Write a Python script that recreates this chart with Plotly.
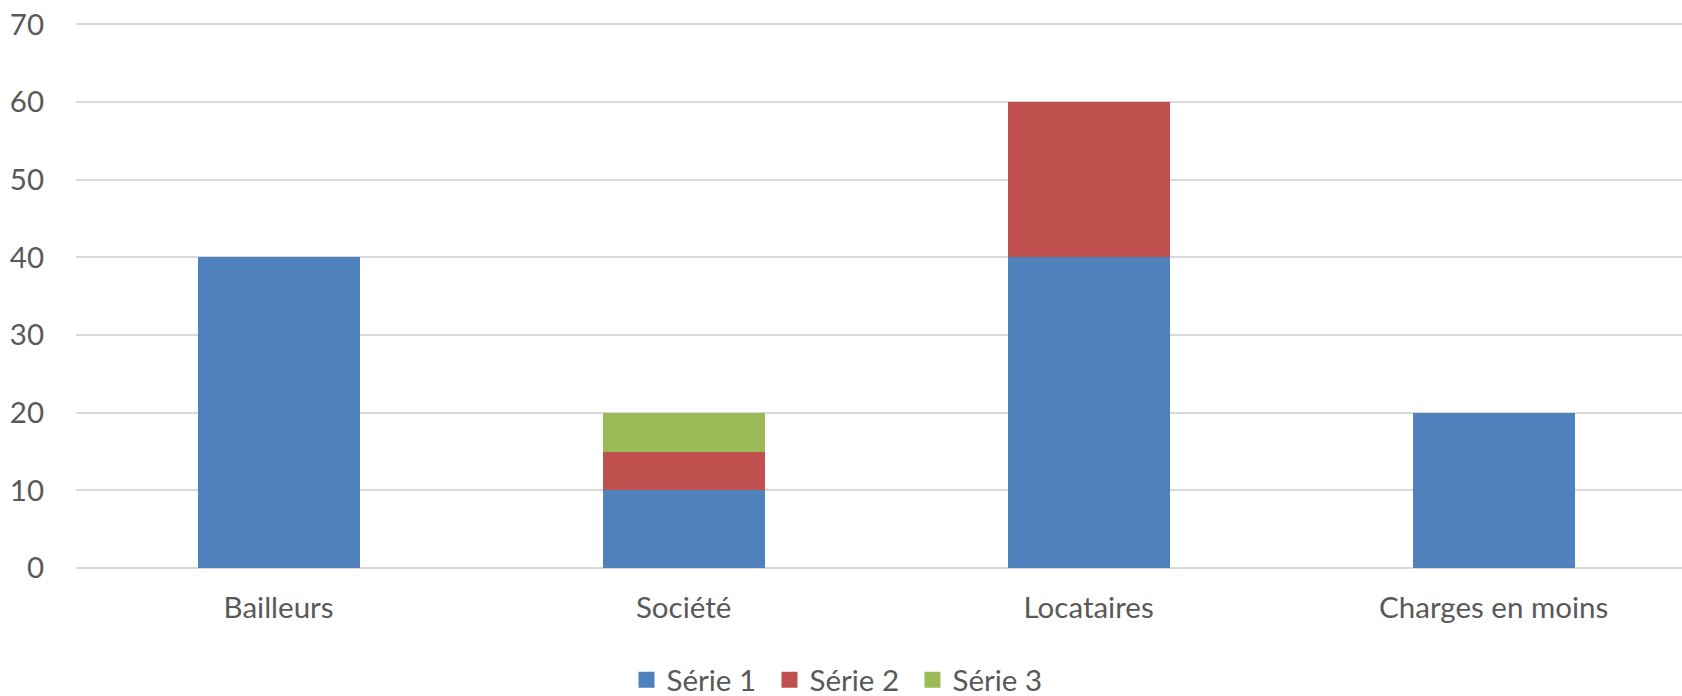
import plotly.graph_objects as go

categories = ["Bailleurs", "Société", "Locataires", "Charges en moins"]
serie1 = [40, 10, 40, 20]
serie2 = [0, 5, 20, 0]
serie3 = [0, 5, 0, 0]
series_names = ["Série 1", "Série 2", "Série 3"]
colors = ["#4F81BD", "#C0504D", "#9BBB59"]

fig = go.Figure()
for name, vals, col in zip(series_names, [serie1, serie2, serie3], colors):
    fig.add_trace(go.Bar(x=categories, y=vals, name=name, showlegend=False,
                         marker=dict(color=col, line=dict(width=0)), width=0.4))
# legend entries with larger square swatches
for name, col in zip(series_names, colors):
    fig.add_trace(go.Scatter(x=[None], y=[None], mode="markers", name=name,
                             marker=dict(symbol="square", size=18, color=col)))

font = dict(family="Lato, Open Sans, sans-serif", size=29.5, color="#595959")
fig.update_layout(
    barmode="stack",
    width=1682, height=696,
    margin=dict(l=76, r=0, t=22, b=128, autoexpand=False),
    paper_bgcolor="white", plot_bgcolor="white",
    font=font,
    legend=dict(orientation="h", xref="container", x=0.5, xanchor="center",
                yref="container", y=0.023, yanchor="middle", font=font,
                itemwidth=30, tracegroupgap=0, traceorder="normal",
                entrywidth=98),
    xaxis=dict(range=[-0.5, 3.465], showgrid=False, showline=False, ticks="",
               tickfont=font, ticklabelstandoff=19, automargin=False, tickangle=0),
    yaxis=dict(range=[0, 70.3], tickvals=[0, 10, 20, 30, 40, 50, 60, 70],
               showgrid=True, gridcolor="#D9D9D9",
               gridwidth=2, zeroline=True, zerolinecolor="#D9D9D9", zerolinewidth=2,
               showline=False, ticks="", tickfont=font, ticklabelstandoff=31,
               automargin=False),
)
fig.write_html("out.html", config={"displayModeBar": False},
               post_script="document.body.style.margin='0';")
